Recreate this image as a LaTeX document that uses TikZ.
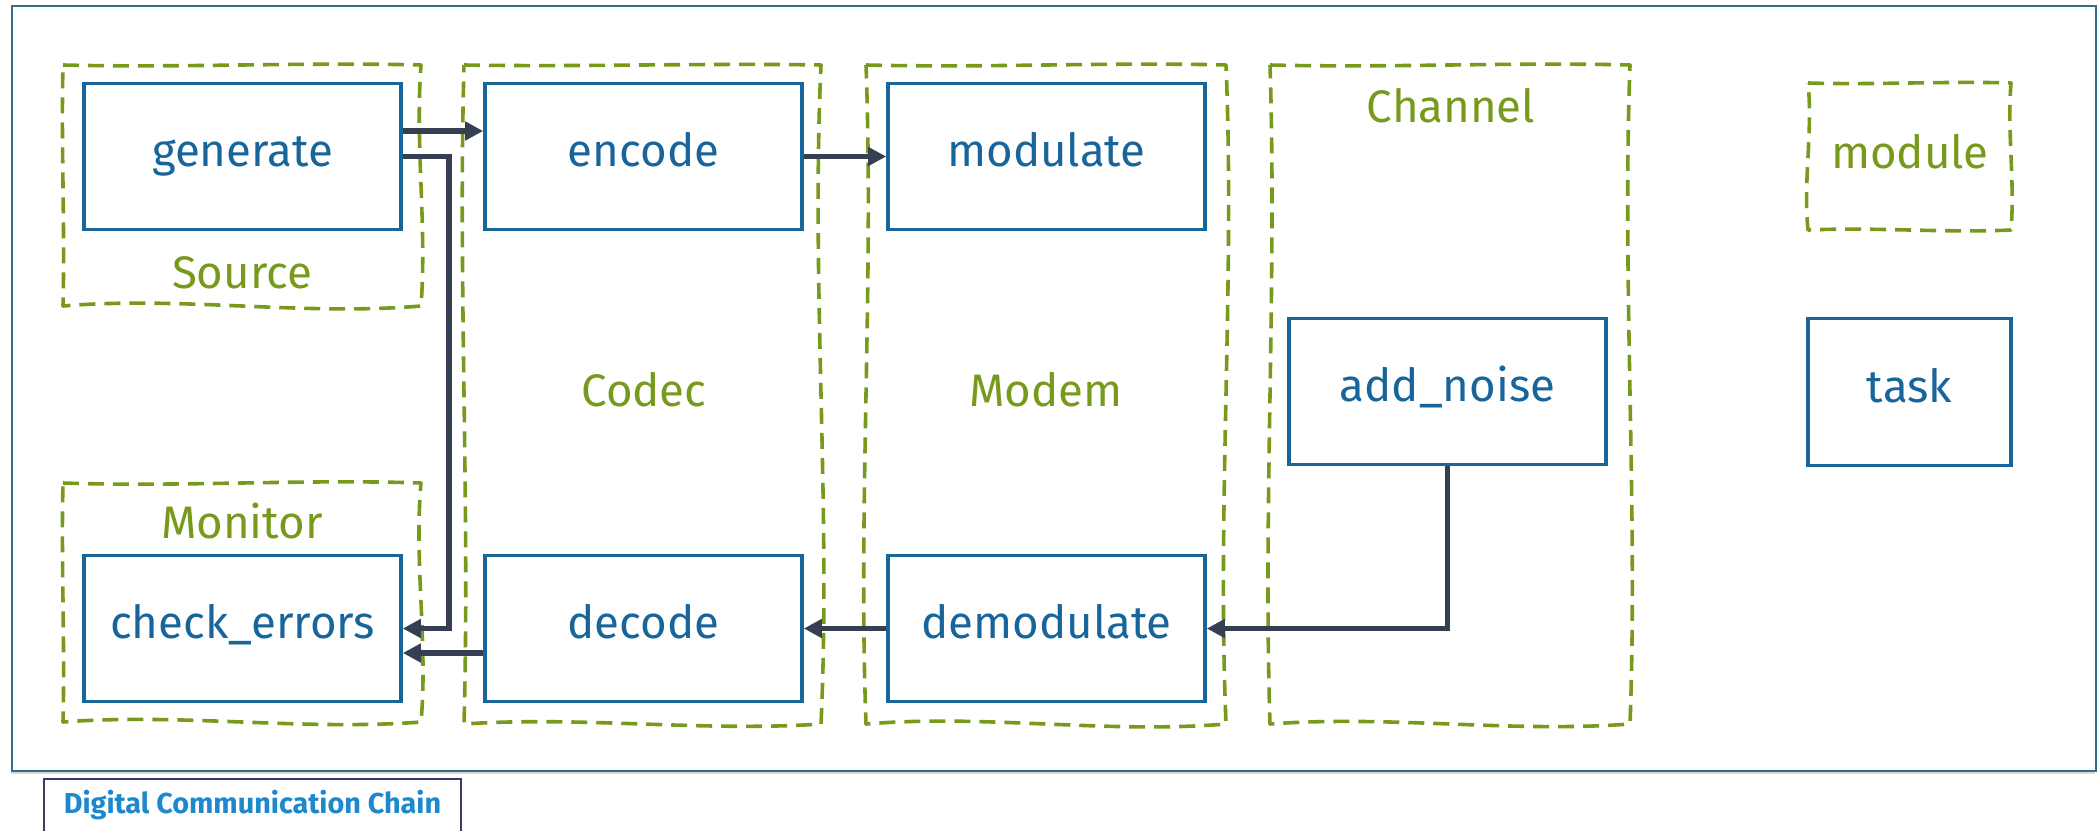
\documentclass[tikz,border=0pt]{standalone}
\usepackage{fontspec}
\setmainfont{Fira Sans}
\usetikzlibrary{arrows.meta,calc,shadows}

\definecolor{taskblue}{HTML}{17659A}
\definecolor{modgreen}{HTML}{779A1C}
\definecolor{linkgray}{HTML}{363F52}
\definecolor{framecol}{HTML}{336B8C}
\definecolor{titleedge}{HTML}{3D3A6B}
\definecolor{titletext}{HTML}{1E88CF}

\newcommand\boxfont{\fontsize{22.8}{28}\selectfont}
\newcommand\captionfont{\fontsize{14.4}{17}\selectfont\bfseries}

% hand-drawn dashed outline round a module area; #2..#5 bend the
% top, right, bottom and left sides
\newcommand\sketchframe[5]{%
  \draw[modline] (#1.north west)
    .. controls ($(#1.north west)!.33!(#1.north east)+(0,#2)$)
            and ($(#1.north west)!.67!(#1.north east)-(0,#2)$) .. (#1.north east)
    .. controls ($(#1.north east)!.33!(#1.south east)+(#3,0)$)
            and ($(#1.north east)!.67!(#1.south east)-(#3,0)$) .. (#1.south east)
    .. controls ($(#1.south east)!.33!(#1.south west)+(0,#4)$)
            and ($(#1.south east)!.67!(#1.south west)-(0,#4)$) .. (#1.south west)
    .. controls ($(#1.south west)!.33!(#1.north west)+(#5,0)$)
            and ($(#1.south west)!.67!(#1.north west)-(#5,0)$) .. (#1.north west)
    -- cycle;
}

\tikzset{
  task/.style={draw=taskblue, line width=1.8pt, fill=white,
    minimum width=158.5pt, minimum height=73pt, inner sep=0pt,
    text=taskblue, font=\boxfont, text height=16pt, text depth=5.7pt},
  modarea/.style={draw=none, inner sep=0pt, outer sep=0pt},
  modline/.style={draw=modgreen, line width=1.8pt,
    dash pattern=on 8pt off 4.5pt, line join=round},
  modlabel/.style={text=modgreen, font=\boxfont, inner sep=0pt, anchor=base},
  conn/.style={draw=linkgray, line width=2.6pt,
    -{Triangle[length=9pt,width=9pt]}},
  outerframe/.style={draw=framecol, line width=1pt, fill=white,
    drop shadow={shadow xshift=-0.6pt, shadow yshift=-1.6pt, opacity=0.3}},
  titlebox/.style={draw=titleedge, line width=1pt, fill=white,
    text=titletext, font=\captionfont, inner sep=0pt,
    minimum width=208.5pt, minimum height=27.5pt,
    text height=10.1pt, text depth=3.6pt},
}

\begin{document}
\begin{tikzpicture}[x=0.5pt, y=-0.5pt]
\useasboundingbox (0,0) rectangle (2097,830);

% surrounding panel and its caption
\path[outerframe] (12,6) rectangle (2096,771);
\node[titlebox, anchor=north] (caption) at (252.5,778) {Digital Communication Chain};

% module areas
\node[modarea, minimum width=179pt,   minimum height=120.5pt] (source)  at (242,185.5)    {};
\node[modarea, minimum width=179pt,   minimum height=119.5pt] (monitor) at (242,602.5)    {};
\node[modarea, minimum width=178.5pt, minimum height=329.5pt] (codec)   at (642.5,394.5)  {};
\node[modarea, minimum width=180pt,   minimum height=329.5pt] (modem)   at (1046,394.5)   {};
\node[modarea, minimum width=180pt,   minimum height=329.5pt] (channel) at (1450,394.5)   {};
\node[modarea, minimum width=101.5pt, minimum height=73.5pt]  (legmod)  at (1909.5,156.5) {};

\sketchframe{source}{3}{-6}{10}{2}
\sketchframe{monitor}{4}{-7}{9}{2}
\sketchframe{codec}{2}{-10}{8}{6}
\sketchframe{modem}{3}{9}{10}{-8}
\sketchframe{channel}{3}{-8}{9}{-7}
\sketchframe{legmod}{2}{-4}{3}{-5}

% module names
\node[modlabel] (lsource)  at (242,288)   {Source};
\node[modlabel] (lmonitor) at (242,538)   {Monitor};
\node[modlabel] (lcodec)   at (644,406)   {Codec};
\node[modlabel] (lmodem)   at (1046,406)  {Modem};
\node[modlabel] (lchannel) at (1451,122)  {Channel};
\node[modlabel] (lmodule)  at (1910,168)  {module};

% tasks
\node[task] (generate)    at (242.5,156.5)  {generate};
\node[task] (encode)      at (643.5,156.5)  {encode};
\node[task] (modulate)    at (1046.5,156.5) {modulate};
\node[task] (addnoise)    at (1447.5,391.5) {add\_noise};
\node[task] (checkerrors) at (242.5,628.5)  {check\_errors};
\node[task] (decode)      at (643.5,628.5)  {decode};
\node[task] (demodulate)  at (1046.5,628.5) {demodulate};
\node[task, minimum width=101.5pt, minimum height=73.5pt] (legtask) at (1909.5,392) {task};

% data flow
\coordinate (bypass) at (449,0);
\draw[conn] ($(generate.east)+(0,-25.5)$) -- ($(encode.west)+(0,-25.5)$);
\draw[conn] (generate.east) -- (generate.east -| bypass)
            -- (checkerrors.east -| bypass) -- (checkerrors.east);
\draw[conn] (encode.east) -- (modulate.west);
\draw[conn] (addnoise.south) |- (demodulate.east);
\draw[conn] (demodulate.west) -- (decode.east);
\draw[conn] ($(decode.west)+(0,24.5)$) -- ($(checkerrors.east)+(0,24.5)$);
\end{tikzpicture}
\end{document}
